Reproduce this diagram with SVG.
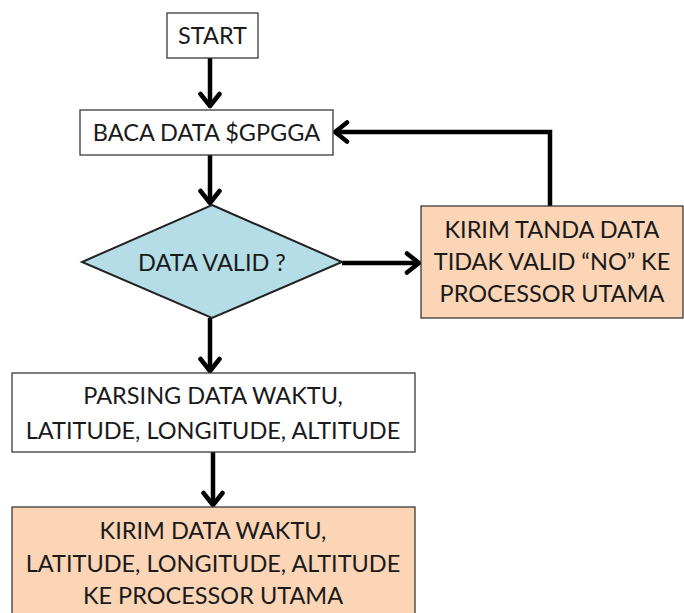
<svg xmlns="http://www.w3.org/2000/svg" width="684" height="613" viewBox="0 0 684 613">
<defs>
<style>
.box{stroke:#3a3a3a;stroke-width:1.3}
.w{fill:#ffffff}
.p{fill:#fbd5b6}
.d{fill:#b4dde8;stroke:#222;stroke-width:2}
text{font-family:Lato,"Open Sans","Liberation Sans",sans-serif;font-size:23.5px;fill:#1a1a1a;text-anchor:middle}
.c{fill:none;stroke:#000;stroke-width:4.5}
</style>
<marker id="ah" viewBox="0 0 18 24" refX="15" refY="12" markerWidth="18" markerHeight="24" markerUnits="userSpaceOnUse" orient="auto">
<path d="M3,2.5 L15,12 L3,21.5" fill="none" stroke="#000" stroke-width="4.5" stroke-linecap="round" stroke-linejoin="round"/>
</marker>
</defs>
<rect width="684" height="613" fill="#ffffff"/>
<g id="connectors">
<path class="c" d="M210,58 V106" marker-end="url(#ah)"/>
<path class="c" d="M210,155 V203" marker-end="url(#ah)"/>
<path class="c" d="M342,263 H419" marker-end="url(#ah)"/>
<path class="c" d="M550,206 V132 H335" marker-end="url(#ah)"/>
<path class="c" d="M210,318 V371" marker-end="url(#ah)"/>
<path class="c" d="M213,452 V505" marker-end="url(#ah)"/>
</g>
<g id="start">
<rect class="box w" x="167" y="13" width="91" height="45"/>
<text x="212.5" y="44">START</text>
</g>
<g id="baca">
<rect class="box w" x="80" y="110" width="253" height="45"/>
<text x="206.5" y="141">BACA DATA $GPGGA</text>
</g>
<g id="valid">
<polygon class="d" points="212,205 342,262 212,318 82,262"/>
<text x="212" y="271">DATA VALID ?</text>
</g>
<g id="kirim_no">
<rect class="box p" x="421" y="206" width="262" height="112"/>
<text x="552" y="238">KIRIM TANDA DATA</text>
<text x="552" y="270">TIDAK VALID “NO” KE</text>
<text x="552" y="302">PROCESSOR UTAMA</text>
</g>
<g id="parsing">
<rect class="box w" x="12" y="373" width="403" height="79"/>
<text x="213" y="404">PARSING DATA WAKTU,</text>
<text x="213" y="439">LATITUDE, LONGITUDE, ALTITUDE</text>
</g>
<g id="kirim_data">
<rect class="box p" x="12" y="507" width="403" height="110"/>
<text x="213" y="539">KIRIM DATA WAKTU,</text>
<text x="213" y="572">LATITUDE, LONGITUDE, ALTITUDE</text>
<text x="213" y="604">KE PROCESSOR UTAMA</text>
</g>
</svg>
